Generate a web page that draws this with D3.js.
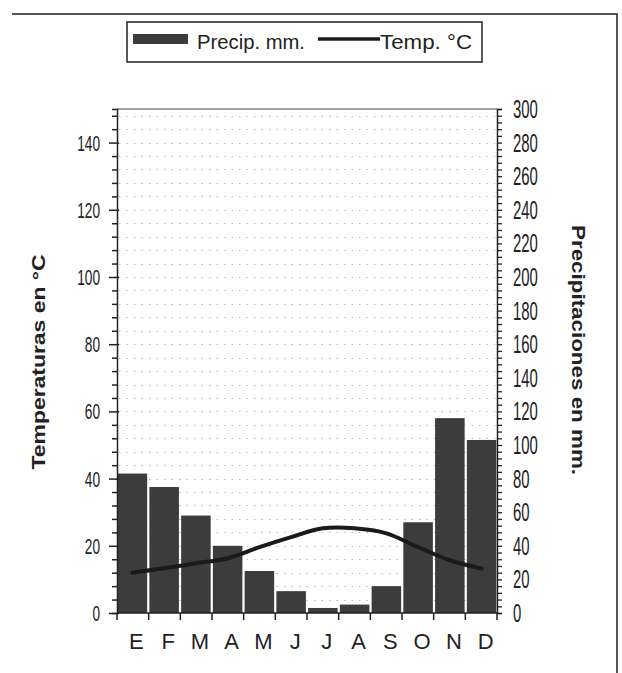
<!DOCTYPE html>
<html>
<head>
<meta charset="utf-8">
<script src="https://cdn.jsdelivr.net/npm/d3@7"></script>
<style>
  body { margin: 0; background: #fff; }
  text { font-family: "Liberation Sans", Arial, sans-serif; fill: #222; }
</style>
</head>
<body>
<div id="chart"></div>
<script>
// month labels (Spanish initials)
var months = ["E", "F", "M", "A", "M", "J", "J", "A", "S", "O", "N", "D"];
// precipitation in mm (bars, right axis)
var precip = [83, 75, 58, 40, 25, 13, 3, 5, 16, 54, 116, 103];
// temperature in C (line, left axis)
var temp = [12, 13.3, 14.8, 16.3, 19.6, 22.6, 25.2, 25.2, 23.7, 19.6, 15.7, 13.2];
var tempTicks = [0, 20, 40, 60, 80, 100, 120, 140];
var precipTicks = [0, 20, 40, 60, 80, 100, 120, 140, 160, 180, 200, 220, 240, 260, 280, 300];

var width = 622, height = 673;
var plot = { left: 117, right: 497, top: 109, bottom: 613 };

var svg = d3.select("#chart")
    .append("svg")
    .attr("width", width)
    .attr("height", height);

// outer frame (top + right edge)
svg.append("path")
    .attr("d", "M12,14H617V673")
    .attr("fill", "none")
    .attr("stroke", "#222")
    .attr("stroke-width", 1.5);

var x = d3.scaleBand()
    .domain(d3.range(months.length))
    .range([plot.left, plot.right])
    .paddingInner(0.07)
    .paddingOuter(0.02);

var yT = d3.scaleLinear().domain([0, 150]).range([plot.bottom, plot.top]);
var yP = d3.scaleLinear().domain([0, 300]).range([plot.bottom, plot.top]);

// dotted grid every 4 C
svg.append("g")
    .selectAll("line")
    .data(d3.range(4, 150, 4))
    .enter().append("line")
    .attr("x1", plot.left + 2)
    .attr("x2", plot.right - 2)
    .attr("y1", function (d) { return Math.round(yT(d)) + 0.5; })
    .attr("y2", function (d) { return Math.round(yT(d)) + 0.5; })
    .attr("stroke", "#b8b8b8")
    .attr("stroke-width", 1)
    .attr("stroke-dasharray", "1.5,6");

// top border of plot
svg.append("line")
    .attr("x1", plot.left).attr("x2", plot.right)
    .attr("y1", plot.top).attr("y2", plot.top)
    .attr("stroke", "#444").attr("stroke-width", 1.2);

// bars
svg.append("g")
    .selectAll("rect")
    .data(precip)
    .enter().append("rect")
    .attr("x", function (d, i) { return x(i); })
    .attr("width", x.bandwidth())
    .attr("y", function (d) { return yP(d); })
    .attr("height", function (d) { return plot.bottom - yP(d); })
    .attr("fill", "#3c3c3c");

// temperature line
svg.append("path")
    .datum(temp)
    .attr("fill", "none")
    .attr("stroke", "#1a1a1a")
    .attr("stroke-width", 4)
    .attr("stroke-linecap", "round")
    .attr("d", d3.line()
        .x(function (d, i) { return x(i) + x.bandwidth() / 2; })
        .y(function (d) { return yT(d); })
        .curve(d3.curveCatmullRom));

// left axis
var leftAxis = svg.append("g")
    .attr("transform", "translate(" + plot.left + ",0)");
leftAxis.call(d3.axisLeft(yT).tickValues(d3.range(0, 149, 4)).tickSize(5).tickFormat(""));
leftAxis.selectAll(".tick line").attr("stroke", "#222").attr("stroke-width", 1.5);
leftAxis.select(".domain").attr("stroke", "#222").attr("stroke-width", 1.5);
leftAxis.selectAll(".tick").filter(function (d) { return tempTicks.indexOf(d) >= 0; })
    .select("line").attr("x1", 2).attr("x2", -8);
leftAxis.selectAll(".lbl")
    .data(tempTicks)
    .enter().append("text")
    .attr("class", "lbl")
    .attr("x", -17)
    .attr("y", function (d) { return yT(d) + 8; })
    .attr("text-anchor", "end")
    .attr("font-size", 22)
    .attr("textLength", function (d) { return String(d).length * 7.6; })
    .attr("lengthAdjust", "spacingAndGlyphs")
    .text(function (d) { return d; });

// right axis
var rightAxis = svg.append("g")
    .attr("transform", "translate(" + plot.right + ",0)");
rightAxis.call(d3.axisRight(yP).tickValues(d3.range(0, 301, 4)).tickSize(5).tickFormat(""));
rightAxis.selectAll(".tick line").attr("stroke", "#222").attr("stroke-width", 1.3);
rightAxis.select(".domain").attr("stroke", "#222").attr("stroke-width", 1.5);
rightAxis.selectAll(".lbl")
    .data(precipTicks)
    .enter().append("text")
    .attr("class", "lbl")
    .attr("x", 16)
    .attr("y", function (d) { return yP(d) + 9; })
    .attr("text-anchor", "start")
    .attr("font-size", 25)
    .attr("textLength", function (d) { return String(d).length * 8.3; })
    .attr("lengthAdjust", "spacingAndGlyphs")
    .text(function (d) { return d; });

// bottom axis
var bottom = svg.append("g");
bottom.append("line")
    .attr("x1", plot.left).attr("x2", plot.right)
    .attr("y1", plot.bottom).attr("y2", plot.bottom)
    .attr("stroke", "#222").attr("stroke-width", 1.5);
bottom.selectAll(".xt")
    .data(d3.range(months.length + 1))
    .enter().append("line")
    .attr("class", "xt")
    .attr("x1", function (i) { return plot.left + i * (plot.right - plot.left) / months.length; })
    .attr("x2", function (i) { return plot.left + i * (plot.right - plot.left) / months.length; })
    .attr("y1", plot.bottom)
    .attr("y2", plot.bottom + 7)
    .attr("stroke", "#222").attr("stroke-width", 1.5);
bottom.selectAll("text")
    .data(months)
    .enter().append("text")
    .attr("x", function (d, i) { return x(i) + x.bandwidth() / 2 + 4; })
    .attr("y", 649)
    .attr("text-anchor", "middle")
    .attr("font-size", 22)
    .text(function (d) { return d; });

// axis titles
svg.append("text")
    .attr("transform", "translate(45,362) rotate(-90)")
    .attr("text-anchor", "middle")
    .attr("font-size", 19)
    .attr("font-weight", "bold")
    .attr("textLength", 215)
    .attr("lengthAdjust", "spacingAndGlyphs")
    .text("Temperaturas en °C");

svg.append("text")
    .attr("transform", "translate(572,350) rotate(90)")
    .attr("text-anchor", "middle")
    .attr("font-size", 19)
    .attr("font-weight", "bold")
    .attr("textLength", 250)
    .attr("lengthAdjust", "spacingAndGlyphs")
    .text("Precipitaciones en mm.");

// legend
var legend = svg.append("g");
legend.append("rect")
    .attr("x", 127).attr("y", 22)
    .attr("width", 355).attr("height", 40)
    .attr("fill", "#fff")
    .attr("stroke", "#222").attr("stroke-width", 1.5);
legend.append("rect")
    .attr("x", 133).attr("y", 34)
    .attr("width", 55).attr("height", 10)
    .attr("fill", "#3c3c3c");
legend.append("text")
    .attr("x", 197).attr("y", 49)
    .attr("font-size", 21)
    .attr("textLength", 108)
    .attr("lengthAdjust", "spacingAndGlyphs")
    .text("Precip. mm.");
legend.append("line")
    .attr("x1", 318).attr("x2", 380)
    .attr("y1", 39).attr("y2", 39)
    .attr("stroke", "#1a1a1a").attr("stroke-width", 3.5);
legend.append("text")
    .attr("x", 380).attr("y", 49)
    .attr("font-size", 21)
    .attr("textLength", 92)
    .attr("lengthAdjust", "spacingAndGlyphs")
    .text("Temp. °C");
</script>
</body>
</html>
